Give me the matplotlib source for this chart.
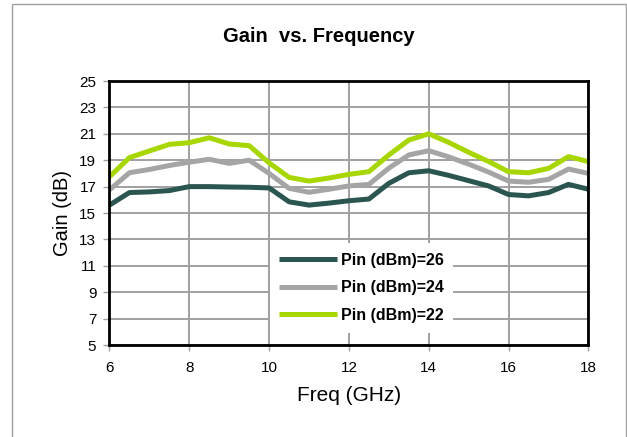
import matplotlib
matplotlib.use("Agg")
import matplotlib.pyplot as plt
from matplotlib.patches import Rectangle

plt.rcParams['font.family'] = ['Liberation Sans', 'DejaVu Sans']

# frequency points (GHz)
freq = [6, 6.5, 7, 7.5, 8, 8.5, 9, 9.5, 10, 10.5, 11, 11.5, 12,
        12.5, 13, 13.5, 14, 14.5, 15, 15.5, 16, 16.5, 17, 17.5, 18]

# gain (dB) for each input power
gain_26 = [15.6, 16.55, 16.6, 16.7, 17.0, 17.0, 16.97, 16.95, 16.9, 15.85, 15.6, 15.75, 15.93,
           16.06, 17.25, 18.05, 18.2, 17.85, 17.45, 17.05, 16.4, 16.3, 16.55, 17.17, 16.8]
gain_24 = [16.75, 18.05, 18.3, 18.6, 18.85, 19.07, 18.76, 19.0, 18.0, 16.87, 16.57, 16.8, 17.05,
           17.17, 18.4, 19.4, 19.72, 19.25, 18.7, 18.1, 17.42, 17.33, 17.55, 18.33, 18.0]
gain_22 = [17.75, 19.2, 19.7, 20.2, 20.33, 20.7, 20.23, 20.1, 18.8, 17.7, 17.42, 17.65, 17.93,
           18.13, 19.4, 20.53, 21.0, 20.35, 19.6, 18.9, 18.13, 18.05, 18.38, 19.27, 18.9]

labels = ['Pin (dBm)=26', 'Pin (dBm)=24', 'Pin (dBm)=22']
colors = ['#2b5550', '#a5a5a5', '#a8d600']

fig = plt.figure(figsize=(6.27, 4.37), dpi=100)

# outer chart frame
fig.patches.append(Rectangle((12 / 627, -0.05), 614 / 627, 1 - 4 / 437 + 0.05,
                             transform=fig.transFigure, fill=False,
                             edgecolor='#a0a0a0', linewidth=1.0))

ax = fig.add_axes([0.1746, 0.2105, 0.7639, 0.6041])

for g, lab, c in zip([gain_26, gain_24, gain_22], labels, colors):
    ax.plot(freq, g, color=c, linewidth=3.6, label=lab, solid_capstyle='butt')

ax.set_xlim(6, 18)
ax.set_ylim(5, 25)
ax.set_xticks(range(6, 19, 2))
ax.set_yticks(range(5, 26, 2))
ax.grid(True, color='#a0a0a0', linewidth=1.4)
ax.set_axisbelow(True)
for s in ax.spines.values():
    s.set_color('black')
    s.set_linewidth(2)
ax.tick_params(axis='both', direction='out', length=4, width=1, color='#a0a0a0',
               labelsize=11)
ax.tick_params(axis='x', pad=7.5)
ax.tick_params(axis='y', pad=5.5)

ax.set_xlabel('Freq (GHz)', fontsize=15, labelpad=8)
ax.set_ylabel('Gain (dB)', fontsize=14.5, labelpad=5)
fig.text(319 / 627, 1 - 37 / 437, 'Gain  vs. Frequency', ha='center', va='center',
         fontsize=14.5, fontweight='bold')

leg = ax.legend(loc='upper left', bbox_to_anchor=(0.318, 0.415), frameon=True,
                fancybox=False, edgecolor='none', framealpha=1,
                prop={'weight': 'bold', 'size': 11.5}, handlelength=3.6,
                handletextpad=0.25, labelspacing=0.78, borderpad=0.6)

fig.savefig('out.png', dpi=100)
